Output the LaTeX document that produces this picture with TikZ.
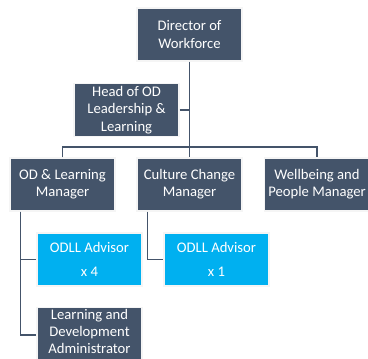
\documentclass[tikz,border=0pt]{standalone}
\usepackage{fontspec}
\setmainfont{Carlito}
\definecolor{slate}{HTML}{44546A}
\definecolor{sky}{HTML}{00B0F0}
\begin{document}
\begin{tikzpicture}[x=0.75pt,y=-0.75pt,
  box/.style={rectangle,draw=white!92!gray,line width=0.8pt,text=white,
    minimum width=105*0.75pt,minimum height=53*0.75pt,inner sep=0pt,
    align=center,font=\fontsize{11}{13}\selectfont},
  dark/.style={box,fill=slate},
  light/.style={box,fill=sky},
  caption/.style={text=white,inner sep=0pt,align=center,
    font=\fontsize{11}{12.6}\selectfont},
  link/.style={draw=slate,line width=1.1pt}]
\useasboundingbox (0,0) rectangle (368,359);
\clip (0,0) rectangle (368,359);
% management levels
\node[dark] (dir) at (189.5,34.5) {Director of\\Workforce};
\node[dark] (head) at (126.5,110) {Head of OD\\Leadership \&\\Learning};
\node[dark] (odm) at (62.5,184.5) {OD \& Learning\\Manager};
\node[dark] (ccm) at (189.5,184.5) {Culture Change\\Manager};
\node[dark] (wpm) at (317,184.5) {Wellbeing and\\People Manager};
% team members
\node[light] (adv4) at (89.5,259.5) {ODLL Advisor\\[5pt]x 4};
\node[light] (adv1) at (216.5,259.5) {ODLL Advisor\\[5pt]x 1};
\node[dark,minimum height=55*0.75pt] (lda) at (89.5,335) {};
\node[caption] (ldatext) at (89.5,331.5) {Learning and\\Development\\Administrator};
% reporting lines
\coordinate (bus) at (189.5,147);
\draw[link] (dir.south) -- (ccm.north);
\draw[link] (head.east) -- (head.east -| dir.south);
\draw[link] (odm.north) |- (bus) -| (wpm.north);
\draw[link] ([xshift=11*0.75pt]odm.south west) |- (adv4.west);
\draw[link] ([xshift=11*0.75pt]odm.south west) |- (lda.west);
\draw[link] ([xshift=11*0.75pt]ccm.south west) |- (adv1.west);
\end{tikzpicture}
\end{document}
